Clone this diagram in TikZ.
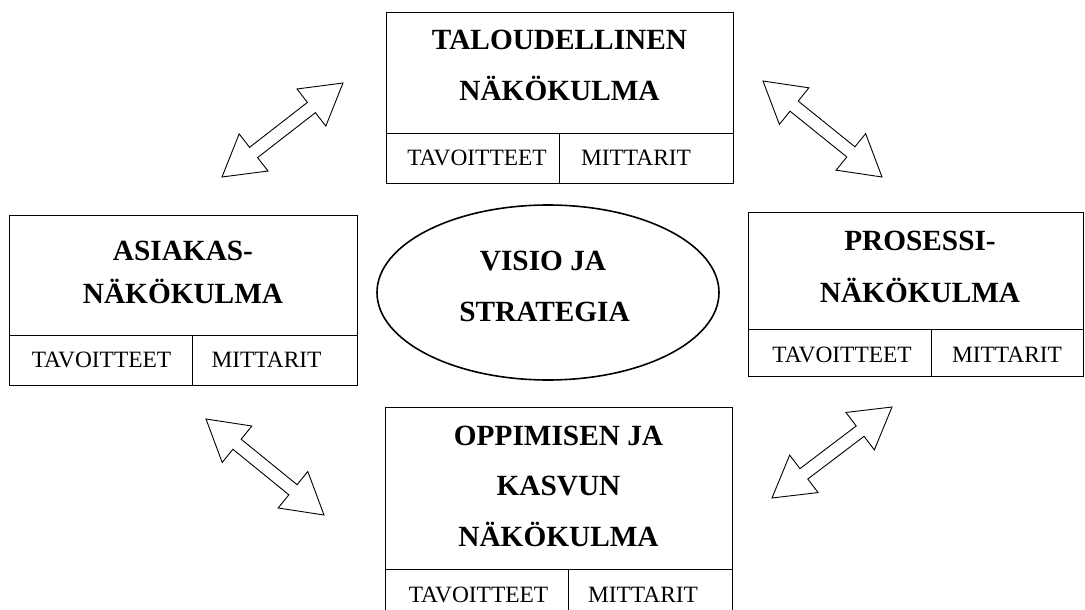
\documentclass[tikz,border=0pt]{standalone}
\usepackage{fontspec}
\setmainfont{Liberation Serif}
\usetikzlibrary{calc,shapes.geometric}
\newcommand\boxtitlefont{\fontsize{29.3}{35}\bfseries\selectfont}
\newcommand\cellfont{\fontsize{23.4}{28}\selectfont}
\tikzset{
  panel/.style={draw, line width=1pt, rectangle, inner sep=0pt},
  divline/.style={draw, line width=1pt},
  titletext/.style={anchor=base, inner sep=0pt, font=\boxtitlefont},
  celltext/.style={anchor=base, inner sep=0pt, font=\cellfont},
  centre/.style={draw, line width=1.6pt, ellipse, inner sep=0pt},
  blockarrow/.style={draw, line width=0.9pt, fill=white, line join=miter}
}
\newcommand\dblarrow[2]{%
  \draw[blockarrow] (#1)
    -- ($(#1)!40pt!(#2)!23.5pt!90:(#2)$)
    -- ($(#1)!40pt!(#2)!6.5pt!90:(#2)$)
    -- ($(#2)!40pt!(#1)!6.5pt!-90:(#1)$)
    -- ($(#2)!40pt!(#1)!23.5pt!-90:(#1)$)
    -- (#2)
    -- ($(#2)!40pt!(#1)!23.5pt!90:(#1)$)
    -- ($(#2)!40pt!(#1)!6.5pt!90:(#1)$)
    -- ($(#1)!40pt!(#2)!6.5pt!-90:(#2)$)
    -- ($(#1)!40pt!(#2)!23.5pt!-90:(#2)$)
    -- cycle;}
\begin{document}
\begin{tikzpicture}[x=1pt,y=-1pt]
\useasboundingbox (0,0) rectangle (1085,610);
\clip (0,0) rectangle (1085,610);
\fill[white] (0,0) rectangle (1085,610);

% Top box
\node[panel, minimum width=347pt, minimum height=170pt] (topbox) at (559.5,98) {};
\draw[divline] (topbox.west |- 0,133) -- (topbox.east |- 0,133);
\draw[divline] (559,133) -- (topbox.south -| 559,0);
\node[titletext] (toptitleA) at (559.5,50) {TALOUDELLINEN};
\node[titletext] (toptitleB) at (559.5,100) {NÄKÖKULMA};
\node[celltext] (topgoal) at (477,165) {TAVOITTEET};
\node[celltext] (topmeas) at (636,165) {MITTARIT};

% Left box
\node[panel, minimum width=348pt, minimum height=170pt] (leftbox) at (183,300) {};
\draw[divline] (leftbox.west |- 0,335) -- (leftbox.east |- 0,335);
\draw[divline] (192,335) -- (leftbox.south -| 192,0);
\node[titletext] (lefttitleA) at (183,260) {ASIAKAS-};
\node[titletext] (lefttitleB) at (183,303) {NÄKÖKULMA};
\node[celltext] (leftgoal) at (101.5,367) {TAVOITTEET};
\node[celltext] (leftmeas) at (266.5,367) {MITTARIT};

% Right box
\node[panel, minimum width=335pt, minimum height=164pt] (rightbox) at (915.5,294) {};
\draw[divline] (rightbox.west |- 0,329) -- (rightbox.east |- 0,329);
\draw[divline] (931,329) -- (rightbox.south -| 931,0);
\node[titletext] (righttitleA) at (920,250) {PROSESSI-};
\node[titletext] (righttitleB) at (920,302) {NÄKÖKULMA};
\node[celltext] (rightgoal) at (842,362) {TAVOITTEET};
\node[celltext] (rightmeas) at (1007,362) {MITTARIT};

% Bottom box
\node[panel, minimum width=347pt, minimum height=213pt] (botbox) at (558.5,513.5) {};
\draw[divline] (botbox.west |- 0,569) -- (botbox.east |- 0,569);
\draw[divline] (568,569) -- (botbox.south -| 568,0);
\node[titletext] (bottitleA) at (558.5,445) {OPPIMISEN JA};
\node[titletext] (bottitleB) at (558.5,495) {KASVUN};
\node[titletext] (bottitleC) at (558.5,546) {NÄKÖKULMA};
\node[celltext] (botgoal) at (478.5,602) {TAVOITTEET};
\node[celltext] (botmeas) at (643,602) {MITTARIT};

% Centre ellipse
\node[centre, minimum width=342pt, minimum height=175pt] (vision) at (548,292.5) {};
\node[titletext] (visionA) at (543,270) {VISIO JA};
\node[titletext] (visionB) at (544.5,321) {STRATEGIA};

% Arrows
\coordinate (tlA) at (222,177); \coordinate (tlB) at (343,83);
\coordinate (trA) at (763,81);  \coordinate (trB) at (882,177);
\coordinate (blA) at (206,419); \coordinate (blB) at (324,515);
\coordinate (brA) at (772,498); \coordinate (brB) at (892,407);
\dblarrow{tlA}{tlB}
\dblarrow{trA}{trB}
\dblarrow{blA}{blB}
\dblarrow{brA}{brB}
\end{tikzpicture}
\end{document}
